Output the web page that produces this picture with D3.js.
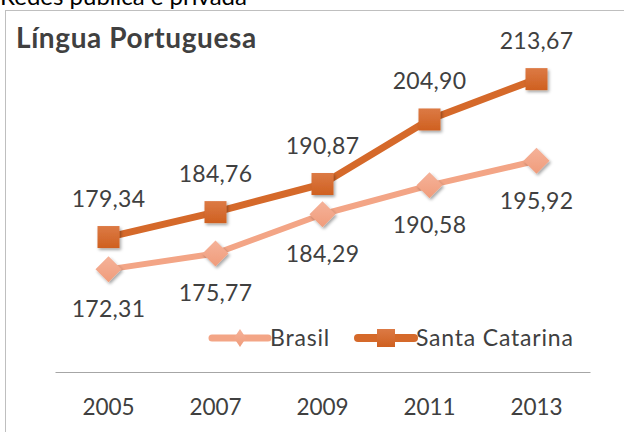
<!DOCTYPE html>
<html>
<head>
<meta charset="utf-8">
<script src="https://cdn.jsdelivr.net/npm/d3@7"></script>
<style>
  html, body { margin: 0; padding: 0; background: #fff; }
  svg { display: block; }
  text { font-family: Lato, "Open Sans", "Liberation Sans", sans-serif; }
</style>
</head>
<body>
<svg id="chart" width="624" height="432"></svg>
<script>
// Proficiência média em Língua Portuguesa
const years = ["2005", "2007", "2009", "2011", "2013"];
const brasil = [172.31, 175.77, 184.29, 190.58, 195.92];
const santaCatarina = [179.34, 184.76, 190.87, 204.90, 213.67];
const yDomain = [150, 220];

const series = [
  { name: "Brasil", values: brasil, color: "#F3A586", marker: "diamond", width: 6, labelPos: "below" },
  { name: "Santa Catarina", values: santaCatarina, color: "#D5692A", marker: "square", width: 7, labelPos: "above" }
];

const svg = d3.select("#chart");
const fmt = v => v.toFixed(2).replace(".", ",");

const defs = svg.append("defs");
const sh = defs.append("filter").attr("id", "shadow").attr("x", "-50%").attr("y", "-50%").attr("width", "200%").attr("height", "200%");
sh.append("feDropShadow").attr("dx", 1.5).attr("dy", 2).attr("stdDeviation", 1.5).attr("flood-color", "#000").attr("flood-opacity", 0.35);

const gSq = defs.append("linearGradient").attr("id", "gradSq").attr("x1", 0).attr("y1", 0).attr("x2", 0).attr("y2", 1);
gSq.append("stop").attr("offset", "0%").attr("stop-color", "#DC7A45");
gSq.append("stop").attr("offset", "100%").attr("stop-color", "#CF6020");
const gDi = defs.append("linearGradient").attr("id", "gradDi").attr("x1", 0).attr("y1", 0).attr("x2", 0).attr("y2", 1);
gDi.append("stop").attr("offset", "0%").attr("stop-color", "#F5B299");
gDi.append("stop").attr("offset", "100%").attr("stop-color", "#F09C7B");

// subtitle above the chart frame, running off the top edge
svg.append("text").attr("x", 0).attr("y", 5).attr("font-size", 24).attr("fill", "#000")
  .text("Redes pública e privada");

// chart frame
svg.append("rect").attr("x", 5.5).attr("y", 10.5).attr("width", 640).attr("height", 440)
  .attr("fill", "#fff").attr("stroke", "#bfbfbf").attr("stroke-width", 1);

svg.append("text").attr("x", 16).attr("y", 48).attr("font-size", 28).attr("font-weight", "bold")
  .attr("letter-spacing", 0.6).attr("fill", "#404040").text("Língua Portuguesa");

const plot = { left: 55, right: 590, top: 50, bottom: 372 };
const x = d3.scaleBand().domain(years).range([plot.left, plot.right]);
const y = d3.scaleLinear().domain(yDomain).range([plot.bottom, plot.top]);
const cx = d => x(d) + x.bandwidth() / 2;

// category axis
const xAxis = svg.append("g").attr("transform", `translate(0,${plot.bottom})`)
  .call(d3.axisBottom(x).tickSize(0));
xAxis.select(".domain").attr("stroke", "#a6a6a6").attr("stroke-width", 1.2);
xAxis.selectAll("text").attr("y", 43).attr("dy", null).attr("font-size", 22.5).attr("fill", "#404040")
  .style("font-family", "Lato, 'Open Sans', sans-serif");

const line = d3.line().x((d, i) => cx(years[i])).y(d => y(d));

function drawMarker(g, kind, px, py, size) {
  if (kind === "square") {
    g.append("rect").attr("x", px - size / 2).attr("y", py - size / 2)
      .attr("width", size).attr("height", size)
      .attr("fill", "url(#gradSq)").attr("filter", "url(#shadow)");
  } else {
    const r = size / 2;
    g.append("path").attr("d", `M${px},${py - r}L${px + r},${py}L${px},${py + r}L${px - r},${py}Z`)
      .attr("fill", "url(#gradDi)").attr("filter", "url(#shadow)");
  }
}

series.forEach(s => {
  const g = svg.append("g");
  g.append("path").datum(s.values).attr("d", line)
    .attr("fill", "none").attr("stroke", s.color).attr("stroke-width", s.width)
    .attr("stroke-linejoin", "round").attr("stroke-linecap", "round");
  s.values.forEach((v, i) => {
    drawMarker(g, s.marker, cx(years[i]), y(v), s.marker === "square" ? 22 : 26);
  });
  s.values.forEach((v, i) => {
    const off = s.labelPos === "above" ? -30 : 48;
    g.append("text").attr("x", cx(years[i])).attr("y", y(v) + off)
      .attr("text-anchor", "middle").attr("font-size", 23).attr("letter-spacing", 0.3).attr("fill", "#404040")
      .text(fmt(v));
  });
});

// legend
const legend = [
  { s: series[0], x0: 212, x1: 268, tx: 270 },
  { s: series[1], x0: 358, x1: 414, tx: 416 }
];
const ly = 338;
legend.forEach(l => {
  const g = svg.append("g");
  g.append("line").attr("x1", l.x0).attr("x2", l.x1).attr("y1", ly).attr("y2", ly)
    .attr("stroke", l.s.color).attr("stroke-width", l.s.width + 1).attr("stroke-linecap", "round");
  const mx = (l.x0 + l.x1) / 2;
  if (l.s.marker === "square") {
    g.append("rect").attr("x", mx - 9).attr("y", ly - 9).attr("width", 18).attr("height", 18).attr("fill", "url(#gradSq)");
  } else {
    g.append("path").attr("d", `M${mx},${ly - 9}L${mx + 6},${ly}L${mx},${ly + 9}L${mx - 6},${ly}Z`).attr("fill", "url(#gradDi)");
  }
  g.append("text").attr("x", l.tx).attr("y", ly + 8).attr("font-size", 23).attr("letter-spacing", 0.8)
    .attr("fill", "#404040").text(l.s.name);
});
</script>
</body>
</html>
